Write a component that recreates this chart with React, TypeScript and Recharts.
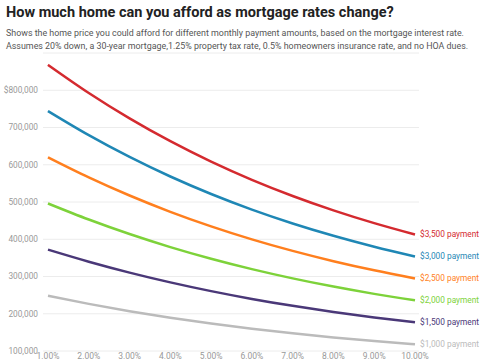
import { LineChart, Line, XAxis, YAxis, CartesianGrid } from "recharts";

// mortgage interest rate, %
const rates = [1, 2, 3, 4, 5, 6, 7, 8, 9, 10];

// affordable home price per monthly payment
const pay1000 = [248050, 226490, 206990, 189480, 173830, 159880, 147480, 136460, 126660, 117940];
const pay1500 = [372080, 339740, 310490, 284220, 260750, 239820, 221220, 204690, 189990, 176910];
const pay2000 = [496100, 452980, 413980, 378960, 347660, 319760, 294960, 272920, 253320, 235880];
const pay2500 = [620130, 566230, 517480, 473700, 434580, 399700, 368700, 341150, 316650, 294850];
const pay3000 = [744150, 679470, 620970, 568440, 521490, 479640, 442440, 409380, 379980, 353820];
const pay3500 = [868180, 792720, 724470, 663180, 608410, 559580, 516180, 477610, 443310, 412790];

const yTicks = [100000, 200000, 300000, 400000, 500000, 600000, 700000, 800000];

const series = [
  { key: "p3500", label: "$3,500 payment", color: "#d42a2f", values: pay3500 },
  { key: "p3000", label: "$3,000 payment", color: "#1f87b5", values: pay3000 },
  { key: "p2500", label: "$2,500 payment", color: "#ff7f1e", values: pay2500 },
  { key: "p2000", label: "$2,000 payment", color: "#7dd23a", values: pay2000 },
  { key: "p1500", label: "$1,500 payment", color: "#4a3878", values: pay1500 },
  { key: "p1000", label: "$1,000 payment", color: "#bbbbbb", values: pay1000 },
];

const data = rates.map((rate, i) => {
  const row: Record<string, number> = { rate };
  series.forEach((s) => {
    row[s.key] = s.values[i];
  });
  return row;
});

const font = "Roboto, 'Liberation Sans', Arial, sans-serif";

function formatY(val: number): string {
  const s = val.toLocaleString("en-US");
  return val === 800000 ? `$${s}` : s;
}

function endLabel(text: string, color: string) {
  return (props: any) => {
    const { x, y, index } = props;
    if (index !== rates.length - 1) return null;
    return (
      <text
        x={x + 5}
        y={y}
        dy="0.35em"
        fill={color}
        fontSize={8.3}
        fontFamily={font}
      >
        {text}
      </text>
    );
  };
}

export default function App() {
  return (
    <div
      style={{
        position: "absolute",
        left: 0,
        top: 0,
        width: 485,
        height: 360,
        overflow: "hidden",
        background: "#fff",
        fontFamily: font,
      }}
    >
      <div
        style={{
          position: "absolute",
          left: 6,
          top: 4,
          fontSize: 14.5,
          fontWeight: 700,
          color: "#222",
          whiteSpace: "nowrap",
        }}
      >
        How much home can you afford as mortgage rates change?
      </div>
      <div
        style={{
          position: "absolute",
          left: 6,
          top: 27,
          fontSize: 8.9,
          lineHeight: "13px",
          color: "#555",
          whiteSpace: "nowrap",
        }}
      >
        Shows the home price you could afford for different monthly payment amounts, based on the mortgage interest rate.
        <br />
        Assumes 20% down, a 30-year mortgage,1.25% property tax rate, 0.5% homeowners insurance rate, and no HOA dues.
      </div>
      <div style={{ position: "absolute", left: 0, top: 0 }}>
        <LineChart
          width={485}
          height={380}
          data={data}
          margin={{ top: 53, right: 66, bottom: 9, left: 0 }}
        >
          <CartesianGrid vertical={false} stroke="#ececec" strokeWidth={1} />
          <XAxis
            dataKey="rate"
            type="number"
            domain={[1, 10]}
            ticks={rates}
            tickFormatter={(v: number) => `${v.toFixed(2)}%`}
            padding={{ left: 5, right: 4 }}
            axisLine={false}
            tickLine={false}
            tickSize={0}
            tickMargin={2}
            height={20}
            interval={0}
            tick={{ fontSize: 8.5, fill: "#999", fontFamily: font }}
          />
          <YAxis
            type="number"
            domain={[100000, 900000]}
            ticks={yTicks}
            tickFormatter={formatY}
            axisLine={false}
            tickLine={false}
            tickSize={0}
            tickMargin={5}
            width={43}
            interval={0}
            tick={{ fontSize: 8.3, fill: "#999", fontFamily: font }}
          />
          {series.map((s) => (
            <Line
              key={s.key}
              type="monotone"
              dataKey={s.key}
              stroke={s.color}
              strokeWidth={2.5}
              dot={false}
              activeDot={false}
              isAnimationActive={false}
              label={endLabel(s.label, s.color)}
            />
          ))}
        </LineChart>
      </div>
    </div>
  );
}
